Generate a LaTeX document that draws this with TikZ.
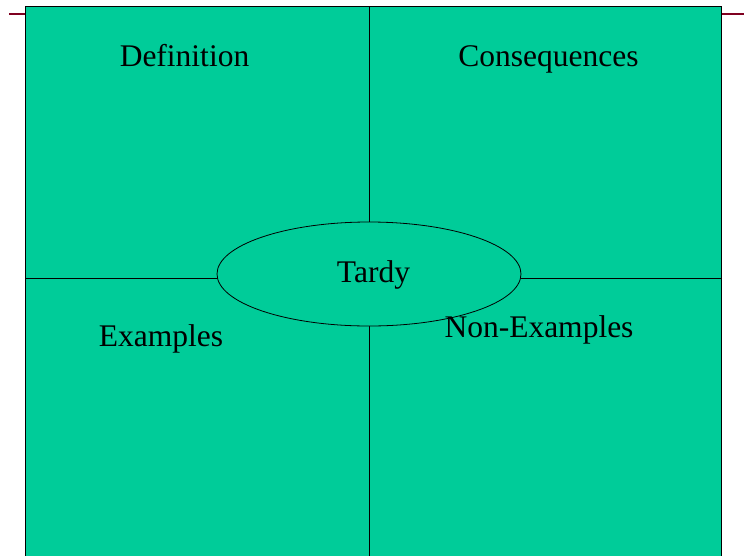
\documentclass[tikz,border=0pt]{standalone}
\usepackage{fontspec}
\setmainfont{Liberation Serif}
\usetikzlibrary{shapes.geometric}
\definecolor{panel}{HTML}{00CC99}
\definecolor{rule}{HTML}{7F0020}
\tikzset{
  label text/.style={font=\fontsize{31.5}{36}\selectfont, inner sep=0pt, anchor=base},
  frame/.style={draw=black, line width=0.9pt},
  divider/.style={draw=black, line width=0.8pt},
}
\begin{document}
\begin{tikzpicture}[x=1pt,y=-1pt]
\useasboundingbox (0,0) rectangle (744,555);
% red rules
\coordinate (rl1) at (9,14);
\coordinate (rl2) at (25,14);
\coordinate (rr1) at (721,14);
\coordinate (rr2) at (744,14);
\draw[rule, line width=2.2pt] (rl1) -- (rl2);
\draw[rule, line width=2.2pt] (rr1) -- (rr2);
% panel
\fill[panel] (25,6) rectangle (721,556);
\coordinate (bl) at (25,556);
\coordinate (tl) at (25,6);
\coordinate (tr) at (721,6);
\coordinate (br) at (721,556);
\draw[frame] (bl) -- (tl) -- (tr) -- (br);
% dividers
\coordinate (vt) at (369.5,6);
\coordinate (vb) at (369.5,556);
\coordinate (hl) at (25,278);
\coordinate (hr) at (721,278);
\draw[divider] (vt) -- (vb);
\draw[divider] (hl) -- (hr);
% centre ellipse
\node[ellipse, draw=black, line width=0.8pt, fill=panel, minimum width=304pt, minimum height=104pt, inner sep=0pt] (tardy) at (369,274) {};
\node[label text] (tardytext) at (373.5,282) {Tardy};
% labels
\node[label text] (def) at (184.5,66) {Definition};
\node[label text] (cons) at (548.5,66) {Consequences};
\node[label text] (ex) at (161,346) {Examples};
\node[label text] (nonex) at (539,337) {Non-Examples};
\end{tikzpicture}
\end{document}
